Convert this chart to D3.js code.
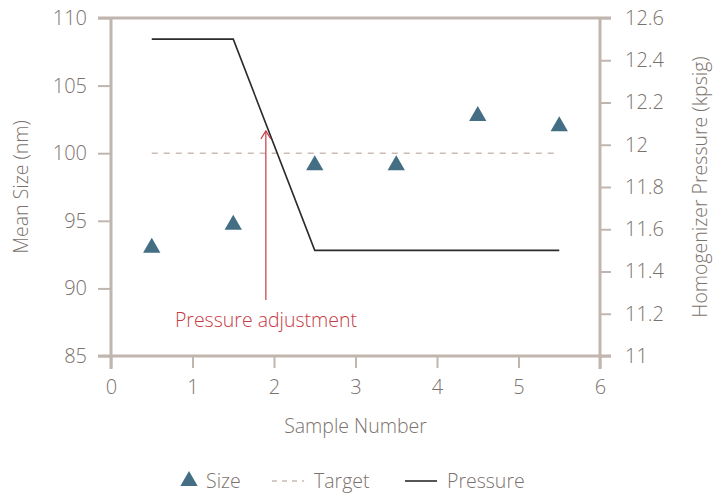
<!DOCTYPE html>
<html>
<head>
<meta charset="UTF-8">
<title>Mean Size vs Sample</title>
<script src="https://cdn.jsdelivr.net/npm/d3@7/dist/d3.min.js"></script>
<style type="text/css">
body { margin: 0; background: #fff; }
svg text { font-family: "Open Sans", sans-serif; fill: #7b726d; font-weight: 300; }
.tick text { font-size: 20px; }
.title { font-size: 19.5px; }
</style>
</head>
<body>
<div class="chart"></div>
<script>
// values
var samples   = [0.5, 1.5, 2.5, 3.5, 4.5, 5.5];
var sizes     = [93, 94.7, 99.1, 99.1, 102.75, 102];
var target    = 100;
var pressureX = [0.5, 1.5, 2.5, 5.5];
var pressure  = [12.5, 12.5, 11.5, 11.5];
var xTicks    = [0, 1, 2, 3, 4, 5, 6];
var yTicks    = [85, 90, 95, 100, 105, 110];
var y2Ticks   = [11, 11.2, 11.4, 11.6, 11.8, 12, 12.2, 12.4, 12.6];
var note      = { x: 1.9, label: "Pressure adjustment" };

var W = 723, H = 493;
var m = { left: 111, right: 123, top: 18, bottom: 137 };
var axisCol = "#c1b6af";

var svg = d3.select(".chart").append("svg").attr("width", W).attr("height", H);

var x  = d3.scaleLinear().domain([0, 6]).range([m.left, W - m.right]);
var y  = d3.scaleLinear().domain([85, 110]).range([H - m.bottom, m.top]);
var y2 = d3.scaleLinear().domain([11, 12.6]).range([H - m.bottom, m.top]);

function styleAxis(g) {
    g.select(".domain").remove();
    g.selectAll(".tick line").attr("stroke", axisCol).attr("stroke-width", 2);
    g.selectAll(".tick text").style("fill", "#7b726d");
}

svg.append("g")
    .attr("transform", "translate(" + m.left + ",0)")
    .call(d3.axisLeft(y).tickValues(yTicks).tickSize(13).tickPadding(11))
    .call(styleAxis);

svg.append("g")
    .attr("transform", "translate(" + (W - m.right) + ",0)")
    .call(d3.axisRight(y2).tickValues(y2Ticks).tickSize(11).tickPadding(14).tickFormat(d3.format("~g")))
    .call(styleAxis);

svg.append("g")
    .attr("transform", "translate(0," + (H - m.bottom) + ")")
    .call(d3.axisBottom(x).tickValues(xTicks).tickSize(12).tickPadding(10).tickFormat(d3.format("d")))
    .call(styleAxis)
    .selectAll(".tick text").attr("dy", "0.8em");

// frame
var x0 = x(0), x1 = x(6), yt = y(110), yb = y(85);
svg.append("line").attr("x1", x0 - 13).attr("x2", x1 + 11).attr("y1", yt).attr("y2", yt)
    .attr("stroke", axisCol).attr("stroke-width", 3);
svg.append("line").attr("x1", x0 - 13).attr("x2", x1 + 11).attr("y1", yb).attr("y2", yb)
    .attr("stroke", axisCol).attr("stroke-width", 3);
svg.append("line").attr("x1", x0).attr("x2", x0).attr("y1", yt).attr("y2", yb + 13)
    .attr("stroke", axisCol).attr("stroke-width", 3);
svg.append("line").attr("x1", x1).attr("x2", x1).attr("y1", yt).attr("y2", yb + 13)
    .attr("stroke", axisCol).attr("stroke-width", 3);

// target line
svg.append("line")
    .attr("x1", x(samples[0])).attr("x2", x(samples[samples.length - 1]))
    .attr("y1", y(target)).attr("y2", y(target))
    .attr("stroke", "#c9bcb5").attr("stroke-width", 1.5).attr("stroke-dasharray", "6,6");

// pressure line
var line = d3.line()
    .x(function (d, i) { return x(pressureX[i]); })
    .y(function (d) { return y2(d); });
svg.append("path").datum(pressure)
    .attr("d", line).attr("fill", "none")
    .attr("stroke", "#2b2b2b").attr("stroke-width", 1.6);

// size markers
var tri = d3.symbol().type(d3.symbolTriangle).size(130);
svg.selectAll(".pt").data(sizes).enter().append("path")
    .attr("class", "pt")
    .attr("d", tri)
    .attr("transform", function (d, i) { return "translate(" + x(samples[i]) + "," + y(d) + ")"; })
    .attr("fill", "#436e84");

// annotation
var red = "#c73a43";
var ax = x(note.x);
svg.append("line").attr("x1", ax).attr("x2", ax).attr("y1", 300).attr("y2", 131)
    .attr("stroke", red).attr("stroke-width", 1.2);
svg.append("path")
    .attr("d", "M" + (ax - 5) + ",139 L" + ax + ",131 L" + (ax + 5) + ",139")
    .attr("fill", "none").attr("stroke", red).attr("stroke-width", 1.2);
svg.append("text").attr("x", 266).attr("y", 327)
    .attr("text-anchor", "middle").attr("class", "title")
    .style("fill", red)
    .text(note.label);

// axis titles
svg.append("text").attr("class", "title")
    .attr("x", (x0 + x1) / 2).attr("y", 433).attr("text-anchor", "middle")
    .text("Sample Number");
svg.append("text").attr("class", "title")
    .attr("transform", "translate(28," + ((yt + yb) / 2) + ") rotate(-90)")
    .attr("text-anchor", "middle").text("Mean Size (nm)");
svg.append("text").attr("class", "title")
    .attr("transform", "translate(707," + ((yt + yb) / 2) + ") rotate(-90)")
    .attr("text-anchor", "middle").text("Homogenizer Pressure (kpsig)");

// legend
var lg = svg.append("g").attr("transform", "translate(0,481)");
lg.append("path").attr("d", tri).attr("transform", "translate(189,0)").attr("fill", "#436e84");
lg.append("text").attr("class", "title").attr("x", 206).attr("dy", "0.35em").text("Size");
lg.append("line").attr("x1", 272).attr("x2", 304).attr("y1", 0).attr("y2", 0)
    .attr("stroke", "#c9bcb5").attr("stroke-width", 1.5).attr("stroke-dasharray", "5,5");
lg.append("text").attr("class", "title").attr("x", 314).attr("dy", "0.35em").text("Target");
lg.append("line").attr("x1", 405).attr("x2", 437).attr("y1", 0).attr("y2", 0)
    .attr("stroke", "#2b2b2b").attr("stroke-width", 1.6);
lg.append("text").attr("class", "title").attr("x", 447).attr("dy", "0.35em").text("Pressure");
</script>
</body>
</html>
